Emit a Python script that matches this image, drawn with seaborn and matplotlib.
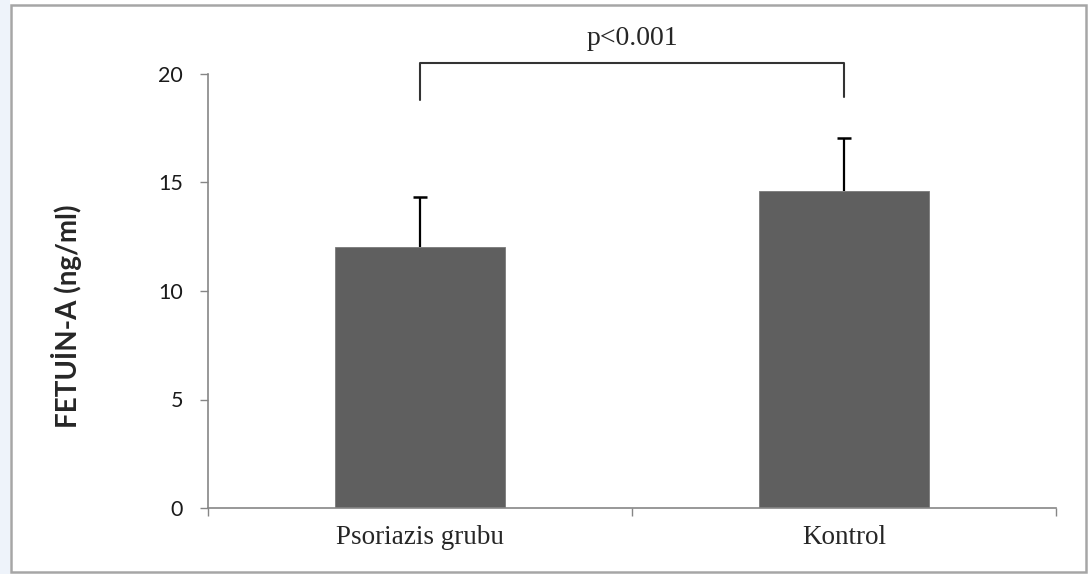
import matplotlib.pyplot as plt
import matplotlib.patches as mpatches
import seaborn as sns

groups = ["Psoriazis grubu", "Kontrol"]
means = [12.05, 14.6]
sd = [2.28, 2.45]
yticks = [0, 5, 10, 15, 20]
p_text = "p<0.001"
ylabel = "FETUİN-A (ng/ml)"

sns.set_style("white")
plt.rcParams["font.family"] = ["Lato", "DejaVu Sans"]

fig = plt.figure(figsize=(10.88, 5.74), dpi=100)
W, H = 1088, 574
ax = fig.add_axes([208 / W, 1 - 508 / H, 848 / W, (508 - 74) / H])

sns.barplot(x=groups, y=means, color="#5f5f5f", saturation=1, width=0.4,
            errorbar=None, ax=ax, edgecolor="#7a7a7a", linewidth=0.6)

# upper error bars only
pos = range(len(groups))
upper = [m + s for m, s in zip(means, sd)]
ax.errorbar(pos, means, yerr=[[0] * len(sd), sd], fmt="none", ecolor="black",
            elinewidth=1.6, capsize=0)
ax.plot(pos, upper, ls="none", marker="_", markersize=10, mew=1.8,
        color="black")

ax.set_xlim(-0.5, 1.5)
ax.set_ylim(0, 20)
ax.set_yticks(yticks)
ax.tick_params(axis="y", labelsize=15.5, length=6, width=1, color="#868686",
               left=True, pad=12, labelcolor="#1a1a1a")
ax.set_xticks([0, 1])
ax.set_xticklabels(groups, fontfamily="Liberation Serif", fontsize=19.5)
ax.tick_params(axis="x", length=0, pad=12)
ax.set_xticks([-0.5, 0.5, 1.5], minor=True)
ax.tick_params(axis="x", which="minor", length=6, width=1, color="#868686",
               bottom=True)

for s in ["top", "right"]:
    ax.spines[s].set_visible(False)
for s in ["left", "bottom"]:
    ax.spines[s].set_color("#868686")
    ax.spines[s].set_linewidth(1.2)

ax.set_ylabel(ylabel, fontsize=20, fontweight="bold")
ax.yaxis.set_label_coords(-0.148, 0.442)

# significance bracket
ax.plot([0, 0, 1, 1], [18.78, 20.5, 20.5, 18.92], color="#333333",
        lw=1.5, clip_on=False)
ax.text(0.5, 21.34, p_text, ha="center", va="baseline", fontsize=20,
        fontfamily="Liberation Serif", clip_on=False)

# outer frame
fig.patches.append(mpatches.Rectangle((11 / W, 1 - 572 / H), 1075 / W, 567 / H,
                                      transform=fig.transFigure, fill=False,
                                      edgecolor="#a6a6a6", lw=1.8))
fig.patches.append(mpatches.Rectangle((0, 0), 10 / W, 1,
                                      transform=fig.transFigure,
                                      facecolor="#eef3fa", edgecolor="none"))

fig.savefig("out.png", dpi=100)
